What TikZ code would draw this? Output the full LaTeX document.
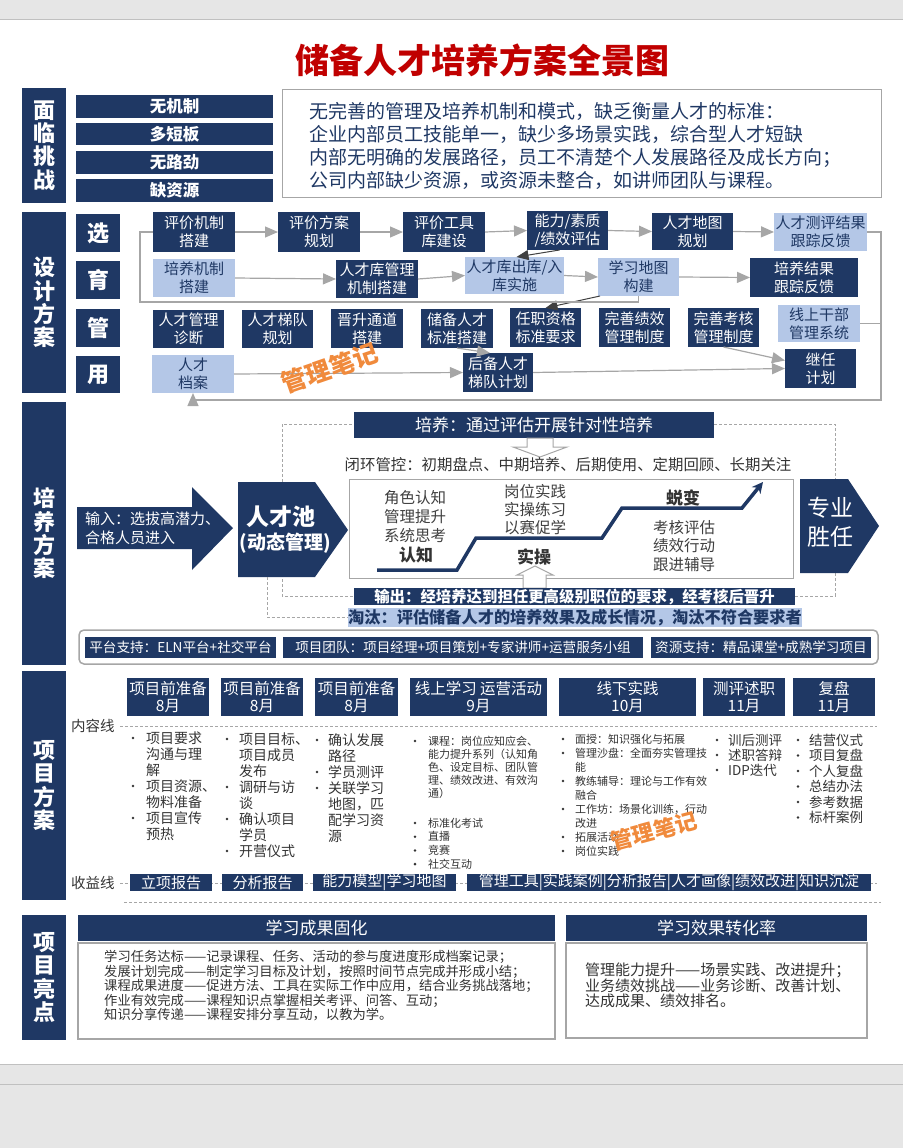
\documentclass[tikz,border=0pt]{standalone}
\usepackage{fontspec}
\setmainfont{Noto Sans CJK SC}
\usetikzlibrary{arrows.meta,calc}
\definecolor{navy}{HTML}{1F3864}
\definecolor{lblue}{HTML}{B4C7E7}
\definecolor{txtnv}{HTML}{1F3864}
\definecolor{garrow}{HTML}{A6A6A6}
\definecolor{bggray}{HTML}{E6E6E6}
\definecolor{lnGray}{HTML}{C0C0C0}
\definecolor{titlered}{HTML}{C00000}
\definecolor{wmor}{HTML}{F08A3C}
\definecolor{bodytxt}{HTML}{333333}
\newcommand{\fz}[2]{\fontsize{#1pt}{#2pt}\selectfont}
\newcommand{\bx}[7]{\node[#6,minimum width={(#4-#2)*1pt},minimum height={(#5-#3)*1pt}] (#1) at ({(#2+#4)/2},{(#3+#5)/2}) {#7};}
\newcommand{\blist}[7]{\foreach \k/\t [count=\i from 0] in {#7}{%
  \node[anchor=west,inner sep=0pt,font=\fz{#6}{#6},text=bodytxt] (#1-\i) at (#3,{#4+\i*#5}) {\t};
  \if b\k\node[circle,fill=bodytxt,inner sep=0pt,minimum size=2.8pt] (#1b-\i) at (#2,{#4+\i*#5}) {};\fi}}
\begin{document}
\begin{tikzpicture}[x=1pt,y=-1pt,
  bse/.style={inner sep=0pt,outer sep=0pt,align=center},
  nv/.style={bse,fill=navy,text=white,font=\fz{15}{18}},
  lb/.style={bse,fill=lblue,text=txtnv,font=\fz{15}{18}},
  sec/.style={bse,fill=navy,text=white,font=\bfseries\fz{22}{23.3}},
  rowl/.style={bse,fill=navy,text=white,font=\bfseries\fz{22}{22}},
  chal/.style={bse,fill=navy,text=white,font=\bfseries\fz{16.5}{17}},
  hdr/.style={bse,fill=navy,text=white,font=\fz{15.5}{17}},
  revb/.style={bse,fill=navy,text=white,font=\fz{15}{15}},
  supb/.style={bse,fill=navy,text=white,font=\fz{13.6}{14}},
  gbox/.style={bse,draw=garrow,line width=1.6pt,fill=white},
  ga/.style={draw=garrow,line width=1.2pt,-{Triangle[width=11pt,length=13pt]}},
  gl/.style={draw=garrow,line width=1.2pt},
  da/.style={draw=black!75,line width=1pt,-{Triangle[width=10pt,length=12pt]}},
  dsh/.style={draw=black!35,line width=0.8pt,dash pattern=on 3pt off 2pt},
  txt/.style={inner sep=0pt,text=bodytxt}
]
\useasboundingbox (0,0) rectangle (903,1148);
% page background
\fill[bggray] (0,0) rectangle (903,20);
\draw[lnGray,line width=1pt] (0,20) -- (903,20);
\fill[bggray] (0,1064) rectangle (903,1148);
\draw[lnGray,line width=1pt] (0,1064) -- (903,1064) (0,1084) -- (903,1084);

% title
\node[txt,text=titlered,font=\bfseries\fz{34}{34}] (title) at (482,60) {储备人才培养方案全景图};

% ===== 面临挑战
\bx{secA}{22}{88}{66}{203}{sec}{面\\临\\挑\\战}
\bx{chA}{76}{95}{273}{118}{chal}{无机制}
\bx{chB}{76}{123}{273}{145}{chal}{多短板}
\bx{chC}{76}{151}{273}{174}{chal}{无路劲}
\bx{chD}{76}{179}{273}{202}{chal}{缺资源}
\bx{chBox}{282}{89}{881}{197}{bse,draw=garrow,line width=1pt}{}
\node[txt,anchor=west,align=left,text=txtnv,font=\fz{19}{22.7}] (chTxt) at (309,146) {无完善的管理及培养机制和模式，缺乏衡量人才的标准：\\企业内部员工技能单一，缺少多场景实践，综合型人才短缺\\内部无明确的发展路径，员工不清楚个人发展路径及成长方向；\\公司内部缺少资源，或资源未整合，如讲师团队与课程。};

% ===== 设计方案
\bx{secB}{22}{212}{66}{393}{sec}{设\\计\\方\\案}
\bx{rX}{76}{214}{120}{252}{rowl}{选}
\bx{rY}{76}{261}{120}{299}{rowl}{育}
\bx{rG}{76}{309}{120}{347}{rowl}{管}
\bx{rU}{76}{356}{120}{393}{rowl}{用}

\bx{a1}{153}{212}{235}{252}{nv}{评价机制\\搭建}
\bx{a2}{278}{212}{360}{252}{nv}{评价方案\\规划}
\bx{a3}{403}{212}{485}{252}{nv}{评价工具\\库建设}
\bx{a4}{527}{211}{608}{250}{nv}{能力/素质\\/绩效评估}
\bx{a5}{652}{213}{733}{250}{nv}{人才地图\\规划}
\bx{a6}{774}{213}{867}{251}{lb}{人才测评结果\\跟踪反馈}

\bx{b1}{153}{259}{235}{297}{lb}{培养机制\\搭建}
\bx{b2}{336}{260}{418}{298}{nv}{人才库管理\\机制搭建}
\bx{b3}{465}{257}{564}{294}{lb}{人才库出库/入\\库实施}
\bx{b4}{598}{258}{679}{296}{lb}{学习地图\\构建}
\bx{b5}{750}{258}{858}{297}{nv}{培养结果\\跟踪反馈}

\bx{c1}{153}{310}{224}{348}{nv}{人才管理\\诊断}
\bx{c2}{242}{310}{313}{348}{nv}{人才梯队\\规划}
\bx{c3}{331}{309}{403}{348}{nv}{晋升通道\\搭建}
\bx{c4}{421}{309}{493}{348}{nv}{储备人才\\标准搭建}
\bx{c5}{510}{308}{581}{347}{nv}{任职资格\\标准要求}
\bx{c6}{599}{308}{670}{347}{nv}{完善绩效\\管理制度}
\bx{c7}{688}{308}{759}{347}{nv}{完善考核\\管理制度}
\bx{c8}{778}{305}{860}{342}{lb}{线上干部\\管理系统}

\bx{d1}{152}{355}{234}{393}{lb}{人才\\档案}
\bx{d2}{463}{353}{533}{392}{nv}{后备人才\\梯队计划}
\bx{d3}{785}{349}{856}{388}{nv}{继任\\计划}

\draw[ga] (a1.east) -- (a2.west);
\draw[ga] (a2.east) -- (a3.west);
\draw[ga] (a3.east) -- (a4.west);
\draw[ga] (a4.east) -- (a5.west);
\draw[ga] (a5.east) -- (a6.west);
\draw[ga] (b1.east) -- (b2.west);
\draw[ga] (b2.east) -- (b3.west);
\draw[ga] (b3.east) -- (b4.west);
\draw[ga] (b4.east) -- (b5.west);
\draw[ga] (d1.east) -- (d2.west);
\draw[ga] (d2.east) -- (d3.west);
\draw[da] ([xshift=-8pt]a4.south) -- ([xshift=2pt]b3.north);
\draw[da] ([xshift=2pt]b4.south west) -- (c5.north);
\draw[ga] (c4.south) -- ([xshift=-8pt]d2.north);
\draw[ga] (c7.south) -- ([yshift=8pt]d3.west);
\coordinate (brL) at (140,302);
\draw[gl] (b4.south) |- (brL) |- (a1.west);
\coordinate (loopR) at (881,400);
\draw[ga] (a6.east) -| (loopR) -| (d1.south);
\draw[gl] (c8.east) -- (c8.east -| loopR);

% ===== 培养方案
\bx{secC}{22}{402}{66}{665}{sec}{培\\养\\方\\案}
\draw[dsh] (282,424) rectangle (835,596);
\coordinate (poolB) at (267,577);
% input arrow
\fill[navy] (77,507) -- (192,507) -- (192,487) -- (233,528) -- (192,570) -- (192,549) -- (77,549) -- cycle;
\node[txt,anchor=west,align=left,text=white,font=\fz{15}{19}] (inp) at (85,528) {输入：选拔高潜力、\\合格人员进入};
% talent pool
\fill[navy] (238,482) -- (315,482) -- (348,530) -- (315,577) -- (238,577) -- cycle;
\node[txt,text=white,font=\bfseries\fz{23}{23}] (pool1) at (281,517) {人才池};
\node[txt,text=white,font=\bfseries\fz{19}{19}] (pool2) at (285,543) {(动态管理)};
% professional
\fill[navy] (800,479) -- (848,479) -- (879,526) -- (848,573) -- (800,573) -- cycle;
\node[txt,align=center,text=white,font=\fz{23}{29}] (prof) at (830,522) {专业\\胜任};

\bx{peiy}{354}{412}{714}{438}{bse,fill=navy,text=white,font=\fz{17}{17}}{培养：通过评估开展针对性培养}
\draw[garrow,line width=1pt,fill=white] (527,438) -- (553,438) -- (553,447) -- (567,447) -- (540,457) -- (513,447) -- (527,447) -- cycle;
\node[txt,font=\fz{15.4}{15.4}] (bihuan) at (568,465) {闭环管控：初期盘点、中期培养、后期使用、定期回顾、长期关注};
\bx{inner}{349}{479}{793}{578}{bse,draw=garrow,line width=0.8pt,fill=white}{}
\node[txt,align=center,text=black!75,font=\fz{15.5}{19}] (col1) at (415,517) {角色认知\\管理提升\\系统思考};
\node[txt,font=\bfseries\fz{17}{17}] (rz) at (416,555) {认知};
\node[txt,anchor=west,align=left,text=black!75,font=\fz{15.5}{18}] (col2) at (504,510) {岗位实践\\实操练习\\以赛促学};
\node[txt,font=\bfseries\fz{17}{17}] (sc) at (534,557) {实操};
\node[txt,font=\bfseries\fz{17}{17}] (tb) at (683,498) {蜕变};
\node[txt,anchor=west,align=left,text=black!75,font=\fz{15.5}{18.5}] (col3) at (653,546) {考核评估\\绩效行动\\跟进辅导};
\draw[navy,line width=3.5pt,-{Stealth[length=11pt,width=11pt]}] (377,570) -- (457,570) -- (476,538) -- (602,538) -- (622,508) -- (742,508) -- (763,482);
\draw[garrow,line width=1pt,fill=white] (535,566) -- (553,575) -- (546,575) -- (546,588) -- (523,588) -- (523,575) -- (517,575) -- cycle;
\bx{shuchu}{354}{588}{795}{605}{bse,fill=navy,text=white,font=\bfseries\fz{15.4}{15.4}}{输出：经培养达到担任更高级别职位的要求，经考核后晋升}
\bx{taotai}{353}{608}{797}{627}{bse,fill=lblue,text=txtnv,font=\bfseries\fz{16.2}{16.2}}{淘汰：评估储备人才的培养效果及成长情况，淘汰不符合要求者}
\draw[dsh] (poolB) |- (taotai.west);

\bx{supp}{79}{630}{878}{664}{bse,draw=garrow,line width=1.5pt,rounded corners=5pt}{}
\bx{sp1}{85}{637}{276}{658}{supb}{平台支持：ELN平台+社交平台}
\bx{sp2}{283}{637}{643}{658}{supb}{项目团队：项目经理+项目策划+专家讲师+运营服务小组}
\bx{sp3}{651}{637}{871}{658}{supb}{资源支持：精品课堂+成熟学习项目}

% ===== 项目方案
\bx{secD}{22}{671}{66}{900}{sec}{项\\目\\方\\案}
\bx{h1}{127}{678}{209}{716}{hdr}{项目前准备\\8月}
\bx{h2}{221}{678}{303}{716}{hdr}{项目前准备\\8月}
\bx{h3}{315}{678}{398}{716}{hdr}{项目前准备\\8月}
\bx{h4}{410}{678}{547}{716}{hdr}{线上学习 运营活动\\9月}
\bx{h5}{559}{678}{696}{716}{hdr}{线下实践\\10月}
\bx{h6}{703}{678}{785}{716}{hdr}{测评述职\\11月}
\bx{h7}{793}{678}{875}{716}{hdr}{复盘\\11月}

\node[txt,anchor=west,font=\fz{14.5}{14.5}] (nrx) at (71,726) {内容线};
\coordinate (nrxE) at (877,726);
\draw[dsh] ([xshift=5pt]nrx.east) -- (nrxE);

\blist{k1}{133}{146}{738}{16}{14}{b/项目要求,c/沟通与理,c/解,b/项目资源、,c/物料准备,b/项目宣传,c/预热}
\blist{k2}{227}{239}{739}{16}{14}{b/项目目标、,c/项目成员,c/发布,b/调研与访,c/谈,b/确认项目,c/学员,b/开营仪式}
\blist{k3}{317}{328}{740}{16}{14}{b/确认发展,c/路径,b/学员测评,b/关联学习,c/地图，匹,c/配学习资,c/源}
\blist{k4}{415}{428}{741}{13}{11}{b/课程：岗位应知应会、,c/能力提升系列（认知角,c/色、设定目标、团队管,c/理、绩效改进、有效沟,c/通）}
\blist{k4x}{415}{428}{823}{13.7}{11}{b/标准化考试,b/直播,b/竞赛,b/社交互动}
\blist{k5}{563}{575}{739}{14}{11}{b/面授：知识强化与拓展,b/管理沙盘：全面夯实管理技,c/能,b/教练辅导：理论与工作有效,c/融合,b/工作坊：场景化训练，行动,c/改进,b/拓展活动,b/岗位实践}
\blist{k6}{717}{728}{740}{15}{13.5}{b/训后测评,b/述职答辩,b/IDP迭代}
\blist{k7}{798}{809}{740}{15.5}{13.5}{b/结营仪式,b/项目复盘,b/个人复盘,b/总结办法,b/参考数据,b/标杆案例}

\node[txt,anchor=west,font=\fz{14.5}{14.5}] (syx) at (71,883) {收益线};
\coordinate (syxE) at (877,883);
\draw[dsh] ([xshift=5pt]syx.east) -- (syxE);
\bx{r1}{130}{874}{212}{891}{revb}{立项报告}
\bx{r2}{222}{874}{303}{891}{revb}{分析报告}
\bx{r3}{313}{874}{456}{891}{revb}{能力模型|学习地图}
\bx{r4}{467}{874}{871}{891}{revb}{管理工具|实践案例|分析报告|人才画像|绩效改进|知识沉淀}
\draw[dsh] (124,902) -- (881,902);

% ===== 项目亮点
\bx{secE}{22}{915}{66}{1040}{sec}{项\\目\\亮\\点}
\bx{hd1}{78}{915}{555}{941}{bse,fill=navy,text=white,font=\fz{17}{17}}{学习成果固化}
\bx{hd2}{566}{915}{867}{941}{bse,fill=navy,text=white,font=\fz{17}{17}}{学习效果转化率}
\bx{bd1}{78}{943}{555}{1039}{gbox}{}
\bx{bd2}{566}{943}{867}{1038}{gbox}{}
\node[txt,anchor=west,align=left,font=\fz{13.3}{14.5}] (bt1) at (104,986) {学习任务达标——记录课程、任务、活动的参与度进度形成档案记录；\\发展计划完成——制定学习目标及计划，按照时间节点完成并形成小结；\\课程成果进度——促进方法、工具在实际工作中应用，结合业务挑战落地；\\作业有效完成——课程知识点掌握相关考评、问答、互动；\\知识分享传递——课程安排分享互动，以教为学。};
\node[txt,anchor=west,align=left,font=\fz{15}{15}] (bt2) at (585,985) {管理能力提升——场景实践、改进提升；\\业务绩效挑战——业务诊断、改善计划、\\达成成果、绩效排名。};

% watermarks
\node[txt,rotate=19,text=wmor,font=\bfseries\fz{25}{25}] (wm1) at (330,368) {管理笔记};
\node[txt,rotate=15,text=wmor,font=\bfseries\fz{22}{22}] (wm2) at (654,831) {管理笔记};
\end{tikzpicture}
\end{document}
